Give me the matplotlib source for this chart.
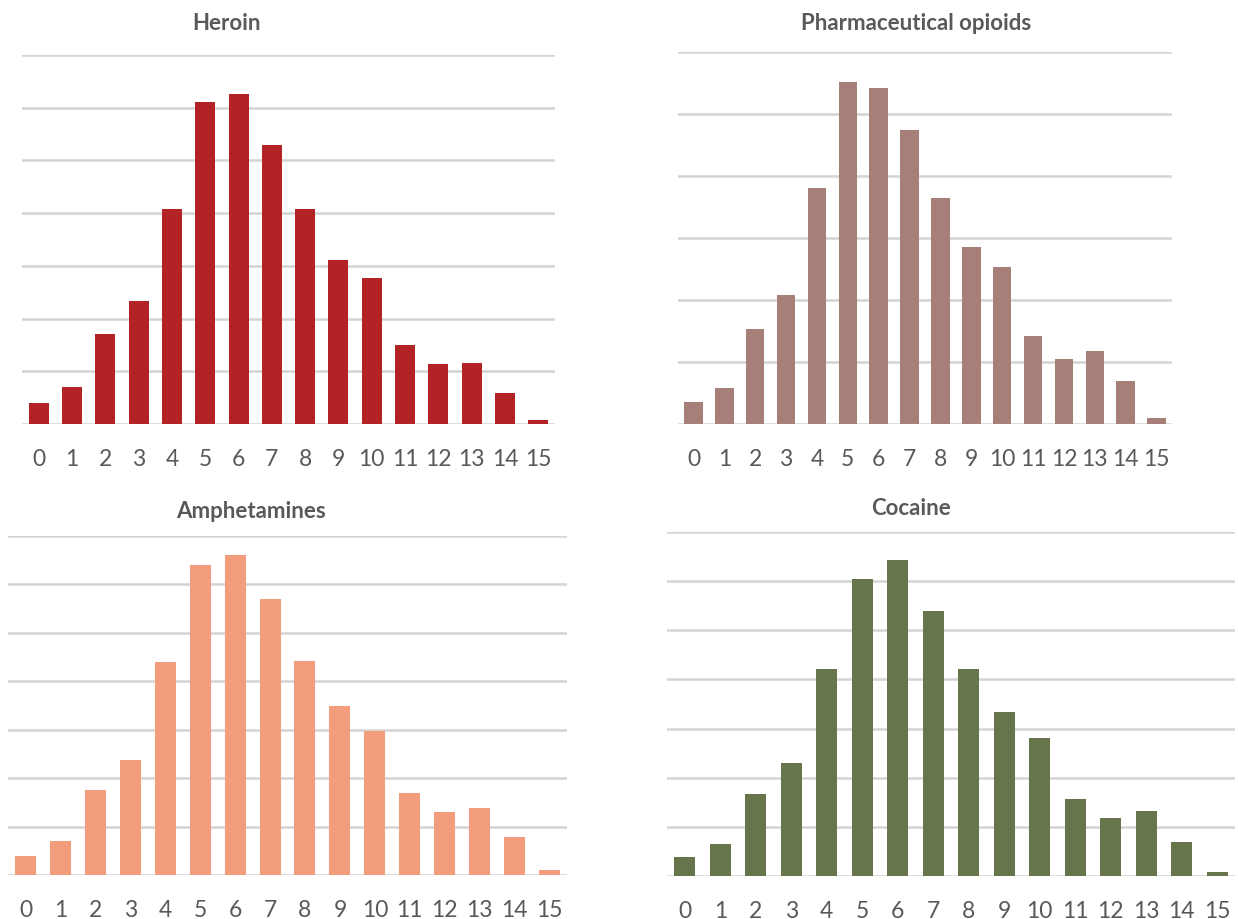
import matplotlib
matplotlib.use("Agg")
import matplotlib.pyplot as plt

plt.rcParams['font.family'] = ['Lato', 'DejaVu Sans']

categories = [str(i) for i in range(16)]

heroin = [0.40, 0.70, 1.71, 2.33, 4.08, 6.11, 6.26, 5.29, 4.08, 3.11, 2.77, 1.50, 1.14, 1.16, 0.59, 0.08]
pharma = [0.35, 0.58, 1.53, 2.08, 3.81, 5.52, 5.42, 4.74, 3.65, 2.85, 2.53, 1.42, 1.05, 1.18, 0.69, 0.10]
amphet = [0.39, 0.70, 1.76, 2.38, 4.40, 6.40, 6.61, 5.70, 4.42, 3.49, 2.98, 1.69, 1.30, 1.38, 0.79, 0.10]
cocaine = [0.39, 0.65, 1.67, 2.29, 4.22, 6.04, 6.43, 5.39, 4.22, 3.33, 2.80, 1.57, 1.18, 1.33, 0.69, 0.08]

titles = ["Heroin", "Pharmaceutical opioids", "Amphetamines", "Cocaine"]
series = [heroin, pharma, amphet, cocaine]
colors = ["#B22326", "#A68078", "#F49D7D", "#66764A"]
ymax = [7, 6, 7, 7]

W, H = 1238, 920
# axes boxes in pixels: left, right, top, bottom
boxes = [(22, 555, 56, 425), (678, 1172, 53, 425), (8, 567, 537, 876), (667, 1235, 533, 877)]
title_pos = [(226, 23), (916, 23), (251, 512), (911, 509)]

fig = plt.figure(figsize=(W / 100, H / 100), dpi=100)
for i in range(4):
    l, r, t, b = boxes[i]
    ax = fig.add_axes([l / W, 1 - b / H, (r - l) / W, (b - t) / H])
    x = list(range(len(categories)))
    ax.bar(x, series[i], width=0.6, color=colors[i], zorder=3)
    ax.set_xlim(-0.5, 15.5)
    ax.set_ylim(0, ymax[i])
    ax.set_yticks(range(0, ymax[i] + 1))
    ax.yaxis.grid(True, color="#D4D4D4", linewidth=1.8, zorder=0)
    ax.set_yticklabels([])
    ax.tick_params(axis='y', length=0)
    ax.set_xticks(x)
    ax.set_xticklabels(categories, fontsize=16.5, color="#595959")
    ax.tick_params(axis='x', length=0, pad=17)
    for s in ax.spines.values():
        s.set_visible(False)
    ax.set_facecolor("none")
    tx, ty = title_pos[i]
    fig.text(tx / W, 1 - ty / H, titles[i], ha='center', va='center',
             fontsize=16, fontweight='bold', color="#595959")

fig.savefig("out.png", dpi=100)
